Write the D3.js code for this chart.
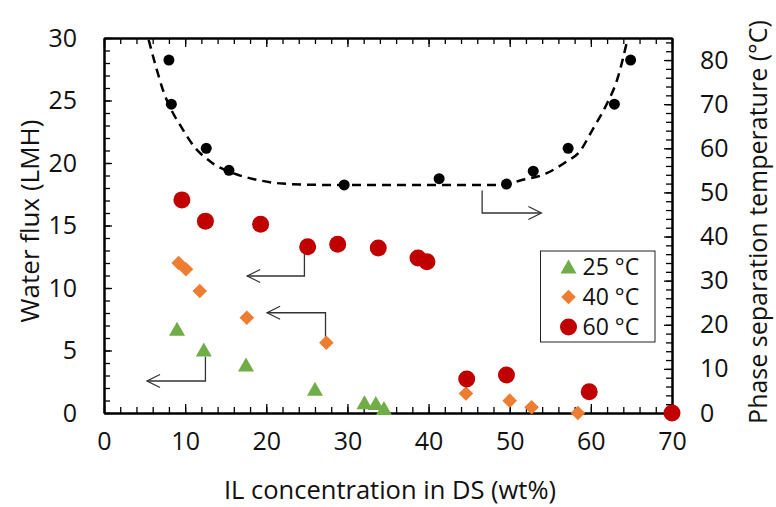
<!DOCTYPE html>
<html>
<head>
<meta charset="utf-8">
<script src="https://cdn.jsdelivr.net/npm/d3@7"></script>
<style>
  body { margin: 0; background: #fff; }
  svg { display: block; font-family: "Open Sans", sans-serif; }
</style>
</head>
<body>
<svg width="776" height="507"></svg>
<script>
// water flux (LMH) vs IL concentration (wt%)
const flux25 = [[9.0, 6.7], [12.3, 5.05], [17.5, 3.85], [26.0, 1.9], [32.1, 0.82], [33.5, 0.77], [34.5, 0.37]];
const flux40 = [[9.2, 12.0], [10.1, 11.5], [11.8, 9.76], [17.6, 7.62], [27.4, 5.62], [44.6, 1.56], [50.0, 0.99], [52.7, 0.46], [58.4, 0.0]];
const flux60 = [[9.6, 17.05], [12.5, 15.35], [19.3, 15.1], [25.1, 13.3], [28.8, 13.5], [33.8, 13.2], [38.7, 12.4], [39.8, 12.1], [44.7, 2.72], [49.6, 3.04], [59.8, 1.7], [70.0, 0.0]];

// phase separation temperature (°C), right axis
const phaseTemp = [[8.0, 80], [8.3, 70], [12.6, 60], [15.4, 55], [29.6, 51.7], [41.3, 53.1], [49.6, 51.9], [52.9, 54.8], [57.2, 60], [62.9, 70], [64.9, 80]];
// dashed guide curve
const phaseCurve = [[5.5, 84.6], [6.4, 78.5], [7.4, 72.5], [8.3, 68.7], [9.5, 64.9], [11.1, 60.4], [13.1, 57], [16, 54.3], [18.5, 53], [22, 52], [27, 51.7],
  [49, 51.7], [51.3, 52.7], [54.5, 54.3], [57, 57], [58.6, 59.2], [60.2, 64.2], [61.9, 69.8], [63.3, 75.9], [64.5, 84.6]];

// arrows pointing to the axis a series belongs to (x, left-axis y)
const arrows = [
  [[46.6, 17.8], [46.6, 16.0], [53.9, 16.0]],
  [[24.7, 12.77], [24.7, 10.96], [17.65, 10.96]],
  [[27.3, 6.1], [27.3, 8.02], [20.1, 8.02]],
  [[12.5, 4.5], [12.5, 2.56], [5.3, 2.56]]
];

const legendLabels = ["25 °C", "40 °C", "60 °C"];
const xTicks = d3.range(0, 71, 10);
const yLeftTicks = d3.range(0, 31, 5);
const yRightTicks = d3.range(0, 81, 10);

const green = "#70AD47", orange = "#ED7D31", red = "#C00000";
const pLeft = 104, pRight = 672, pTop = 38, pBottom = 413;

const svg = d3.select("svg");

const x = d3.scaleLinear().domain([0, 70]).range([pLeft, pRight]);
const yL = d3.scaleLinear().domain([0, 30]).range([pBottom, pTop]);
const yR = d3.scaleLinear().domain([0, 85]).range([pBottom, pTop]);

// axes: minor + major ticks, all pointing inward
function styleAxis(g) {
  g.select(".domain").attr("stroke", "#000").attr("stroke-width", 2);
  g.selectAll(".tick line").attr("stroke", "#000").attr("stroke-width", 1.3);
  g.selectAll("text").attr("font-size", 25).attr("fill", "#111").attr("font-family", "Open Sans");
}

svg.append("g").attr("transform", `translate(0,${pBottom})`)
  .call(d3.axisBottom(x).tickValues(d3.range(0, 71, 2)).tickSize(-6).tickFormat("").tickSizeOuter(0))
  .call(styleAxis);
svg.append("g").attr("transform", `translate(0,${pBottom})`)
  .call(d3.axisBottom(x).tickValues(xTicks).tickSize(-9).tickPadding(19).tickSizeOuter(0))
  .call(styleAxis);
svg.append("g").attr("transform", `translate(0,${pTop})`)
  .call(d3.axisTop(x).tickValues(d3.range(0, 71, 2)).tickSize(-6).tickFormat("").tickSizeOuter(0))
  .call(styleAxis);
svg.append("g").attr("transform", `translate(0,${pTop})`)
  .call(d3.axisTop(x).tickValues(xTicks).tickSize(-9).tickFormat("").tickSizeOuter(0))
  .call(styleAxis);

svg.append("g").attr("transform", `translate(${pLeft},0)`)
  .call(d3.axisLeft(yL).tickValues(d3.range(0, 31, 1)).tickSize(-6).tickFormat("").tickSizeOuter(0))
  .call(styleAxis);
svg.append("g").attr("transform", `translate(${pLeft},0)`)
  .call(d3.axisLeft(yL).tickValues(yLeftTicks).tickSize(-8).tickPadding(27).tickSizeOuter(0))
  .call(styleAxis);

svg.append("g").attr("transform", `translate(${pRight},0)`)
  .call(d3.axisRight(yR).tickValues(d3.range(0, 86, 2)).tickSize(-6).tickFormat("").tickSizeOuter(0))
  .call(styleAxis);
svg.append("g").attr("transform", `translate(${pRight},0)`)
  .call(d3.axisRight(yR).tickValues(yRightTicks).tickSize(-8).tickPadding(28).tickSizeOuter(0))
  .call(styleAxis);

// axis titles
svg.append("text").attr("x", 390).attr("y", 499)
  .attr("text-anchor", "middle").attr("font-size", 25.5).attr("fill", "#111")
  .text("IL concentration in DS (wt%)");
svg.append("text").attr("transform", "translate(39,221) rotate(-90)")
  .attr("text-anchor", "middle").attr("font-size", 26).attr("fill", "#111")
  .text("Water flux (LMH)");
svg.append("text").attr("transform", "translate(767,222) rotate(-90)")
  .attr("text-anchor", "middle").attr("font-size", 25).attr("fill", "#111")
  .text("Phase separation temperature (°C)");

// arrowhead
svg.append("defs").append("marker")
  .attr("id", "open-arrow").attr("markerUnits", "userSpaceOnUse")
  .attr("viewBox", "-14 -8 16 16").attr("markerWidth", 16).attr("markerHeight", 16)
  .attr("refX", 0).attr("refY", 0).attr("orient", "auto")
  .append("path").attr("d", "M-13,-6.5L0,0L-13,6.5")
  .attr("fill", "none").attr("stroke", "#333").attr("stroke-width", 1.3);

svg.append("clipPath").attr("id", "plot-clip")
  .append("rect").attr("x", pLeft).attr("y", pTop).attr("width", pRight - pLeft).attr("height", pBottom - pTop);

// dashed curve
const curveLine = d3.line().x(d => x(d[0])).y(d => yR(d[1])).curve(d3.curveMonotoneX);
svg.append("path").datum(phaseCurve)
  .attr("clip-path", "url(#plot-clip)")
  .attr("d", curveLine)
  .attr("fill", "none").attr("stroke", "#000").attr("stroke-width", 2.5)
  .attr("stroke-dasharray", "9,6");

// arrows
const arrowLine = d3.line().x(d => x(d[0])).y(d => yL(d[1]));
svg.selectAll(".arrow").data(arrows).enter().append("path")
  .attr("class", "arrow")
  .attr("d", arrowLine)
  .attr("fill", "none").attr("stroke", "#333").attr("stroke-width", 1.3)
  .attr("marker-end", "url(#open-arrow)");

// marker shapes
const triPath = "M0,-7.5L8,6.5L-8,6.5Z";
const diamondPath = "M0,-7.3L7.3,0L0,7.3L-7.3,0Z";

svg.selectAll(".p25").data(flux25).enter().append("path")
  .attr("class", "p25").attr("d", triPath).attr("fill", green)
  .attr("transform", d => `translate(${x(d[0])},${yL(d[1])})`);

svg.selectAll(".p40").data(flux40).enter().append("path")
  .attr("class", "p40").attr("d", diamondPath).attr("fill", orange)
  .attr("transform", d => `translate(${x(d[0])},${yL(d[1])})`);

svg.selectAll(".p60").data(flux60).enter().append("circle")
  .attr("class", "p60").attr("r", 8.5).attr("fill", red)
  .attr("cx", d => x(d[0])).attr("cy", d => yL(d[1]));

svg.selectAll(".pt").data(phaseTemp).enter().append("circle")
  .attr("class", "pt").attr("r", 5.5).attr("fill", "#000")
  .attr("cx", d => x(d[0])).attr("cy", d => yR(d[1]));

// legend
const legend = svg.append("g").attr("transform", "translate(540.5,251)");
legend.append("rect").attr("width", 114.5).attr("height", 91)
  .attr("fill", "#fff").attr("stroke", "#222").attr("stroke-width", 1);
const shapes = [triPath, diamondPath, null];
const colors = [green, orange, red];
legendLabels.forEach((lab, i) => {
  const row = legend.append("g").attr("transform", `translate(28,${16 + i * 30})`);
  if (shapes[i]) row.append("path").attr("d", shapes[i]).attr("fill", colors[i]);
  else row.append("circle").attr("r", 8.5).attr("fill", colors[i]);
  row.append("text").attr("x", 14).attr("dy", "0.36em")
    .attr("font-size", 23).attr("fill", "#111").text(lab);
});
</script>
</body>
</html>
